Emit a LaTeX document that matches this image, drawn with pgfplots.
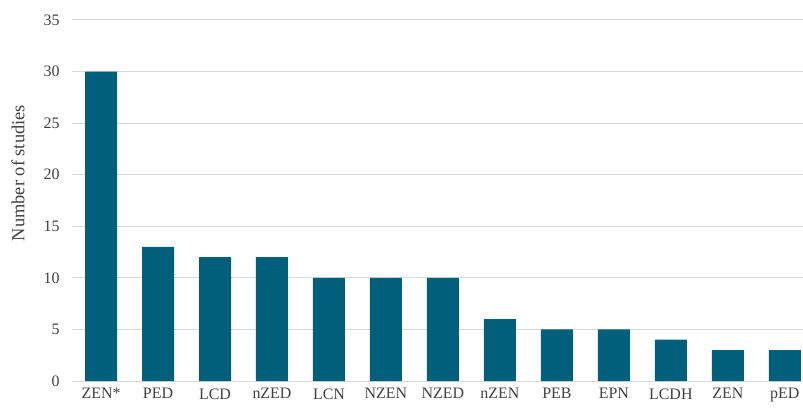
\documentclass[border=0pt]{standalone}
\usepackage{fontspec}
\setmainfont{Liberation Serif}
\usepackage{pgfplots}
\pgfplotsset{compat=1.18}
\definecolor{bar}{HTML}{005F7A}
\definecolor{grid}{HTML}{D9D9D9}
\definecolor{txt}{HTML}{404040}

\begin{document}
\begin{tikzpicture}
\begin{axis}[
  at={(0,0)}, anchor=south west,
  scale only axis, width=731bp, height=361bp,
  ymin=0, ymax=35, ytick={0,5,...,35},
  xmin=-0.51, xmax=12.32,
  xtick={0,...,12},
  xticklabels={ZEN*,PED,LCD,nZED,LCN,NZEN,NZED,nZEN,PEB,EPN,LCDH,ZEN,pED},
  ymajorgrids=true, xmajorgrids=false,
  y grid style={grid, line width=1pt},
  axis x line*=bottom, axis y line*=left,
  x axis line style={draw=grid, line width=1pt, -},
  y axis line style={draw=none},
  major tick length=0pt,
  tick label style={font=\fontsize{16}{19}\selectfont, text=txt},
  /pgf/number format/assume math mode=true,
  yticklabel style={xshift=-9bp},
  xticklabel style={yshift=-4bp},
  ylabel={Number of studies},
  every axis y label/.style={at={(axis description cs:0,0.576)}, xshift=-54bp, rotate=90, anchor=center,
    font=\fontsize{18.5}{21}\selectfont, text=txt},
  clip=false,
]
\addplot[ybar, bar width=32bp, fill=bar, draw=none] coordinates {
  (0,30) (1,13) (2,12) (3,12) (4,10) (5,10) (6,10) (7,6) (8,5) (9,5) (10,4) (11,3) (12,3)
};
\end{axis}
\pgfresetboundingbox
\path (-72bp,-28bp) rectangle (731bp,381bp);
\end{tikzpicture}
\end{document}
